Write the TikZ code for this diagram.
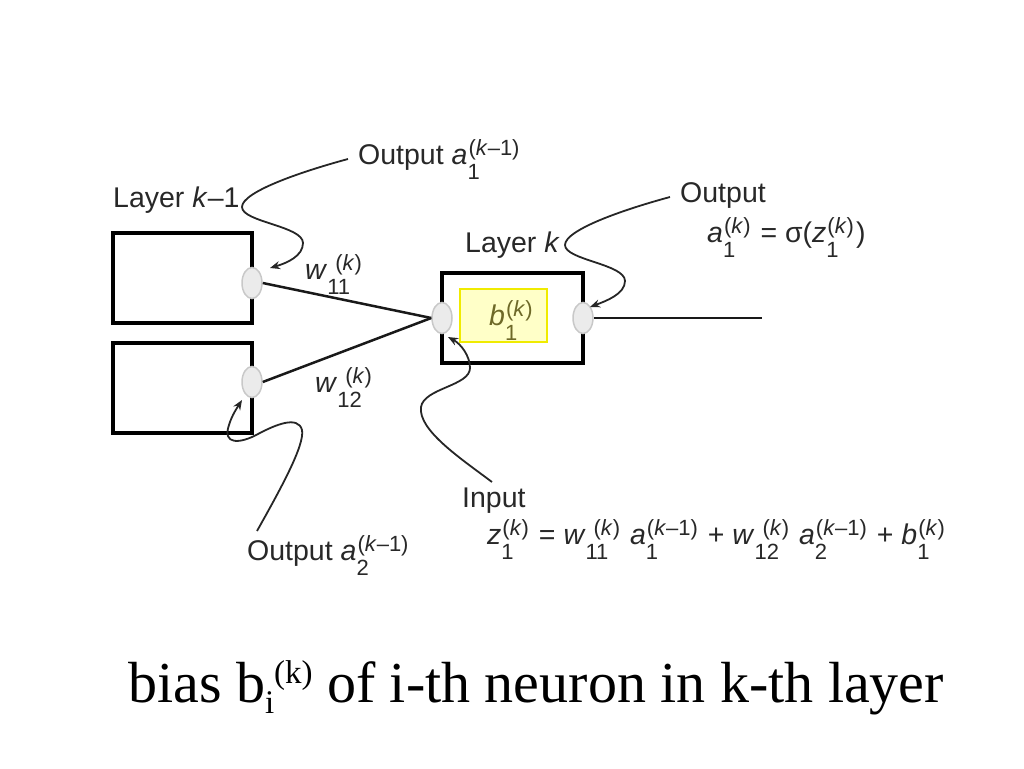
\documentclass[tikz,border=0pt]{standalone}
\usepackage{fontspec}
\setmainfont{Liberation Sans}
\newfontfamily\timesfont{Liberation Serif}
\usetikzlibrary{arrows.meta,shapes.geometric}
\definecolor{txt}{RGB}{40,40,40}
\definecolor{yfill}{RGB}{255,255,200}
\definecolor{yborder}{RGB}{240,235,0}
\definecolor{btxt}{RGB}{110,105,40}
\definecolor{efill}{RGB}{235,235,235}
\definecolor{edraw}{RGB}{200,200,200}
% #1 kern of sup, #2 size, #3 raise, #4 lower, #5 sup, #6 sub
\newcommand\SSgen[6]{\setbox0\hbox{\kern#1\raisebox{#3}{\fontsize{#2}{#2}\selectfont #5}}\setbox2\hbox{\raisebox{-#4}{\fontsize{#2}{#2}\selectfont #6}}\ifdim\wd0>\wd2\relax\rlap{\box2\relax}\box0\relax\else\rlap{\box0\relax}\box2\relax\fi}
\newcommand\SupSub[3][1pt]{\SSgen{#1}{22pt}{9pt}{15pt}{#2}{#3}\kern2pt\relax}
\newcommand\Kp{(\textit{k})}
\newcommand\Km{(\textit{k}–1)}
\tikzset{
  layerbox/.style={draw=black, line width=4pt},
  biasbox/.style={draw=yborder, fill=yfill, line width=2pt},
  port/.style={ellipse, draw=edraw, fill=efill, line width=1.5pt, minimum width=20pt, minimum height=31pt, inner sep=0pt},
  wire/.style={draw=black!90, line width=2.5pt},
  callout/.style={draw=black!85, line width=1.8pt, -{Stealth[length=10pt,width=8pt]}},
  lbl/.style={text=txt, font=\fontsize{28.5}{32}\selectfont, inner sep=0pt, anchor=base west},
}
\begin{document}
\begin{tikzpicture}[x=1pt,y=-1pt]
\useasboundingbox (0,0) rectangle (1024,768);
% boxes
\draw[layerbox] (113,233) rectangle (252,323);
\draw[layerbox] (113,343) rectangle (252,433);
\draw[layerbox] (442,273) rectangle (583,363);
\node[biasbox, minimum width=87pt, minimum height=53pt, inner sep=0pt] (bias) at (503.5,315.5) {};
% ports
\node[port] (p1) at (252,283) {};
\node[port] (p2) at (252,382) {};
\node[port] (pin) at (442,318) {};
\node[port] (pout) at (583,318) {};
\coordinate (outend) at (762,318);
% wires
\draw[wire] (p1.east) -- (pin.west);
\draw[wire] (p2.east) -- (pin.west);
\draw[wire] (pout.east) -- (outend);
% labels
\node[lbl] (l1) at (113,207) {Layer \textit{k}–1};
\node[lbl] (o1) at (358,164) {Output \textit{a}\SupSub{\Km}{1}};
\node[lbl] (w11) at (305,279) {\textit{w}\SupSub[8pt]{\Kp}{11}};
\node[lbl] (w12) at (315,392) {\textit{w}\SupSub[8pt]{\Kp}{12}};
\node[lbl] (lk) at (465,252) {Layer \textit{k}};
\node[lbl] (ok) at (680,202) {Output};
\node[lbl] (ak) at (707,242) {\textit{a}\SupSub{\Kp}{1} = σ(\textit{z}\SupSub{\Kp}{1})};
\node[lbl, text=btxt] (b1) at (489,325) {\textit{b}\SupSub{\Kp}{1}};
\node[lbl] (inp) at (462,507) {Input};
\node[lbl] (eq) at (487,544) {\textit{z}\SupSub{\Kp}{1} = \textit{w}\SupSub[8pt]{\Kp}{11} \textit{a}\SupSub{\Km}{1} + \textit{w}\SupSub[8pt]{\Kp}{12} \textit{a}\SupSub{\Km}{2} + \textit{b}\SupSub{\Kp}{1}};
\node[lbl] (o2) at (247,560) {Output \textit{a}\SupSub{\Km}{2}};
\node[text=black, inner sep=0pt, anchor=base west, font=\timesfont\fontsize{58}{64}\selectfont] (title) at (128,702) {bias b\SSgen{9pt}{33pt}{19pt}{11pt}{(k)}{i} of i-th neuron in k-th layer};
% callout arrow ends
\coordinate (t1) at (270,268);
\coordinate (t2) at (590,307);
\coordinate (t3) at (448,337);
\coordinate (t4) at (242,400);
\coordinate (s1) at (348,159);
\coordinate (s2) at (670,197);
\coordinate (s3) at (492,482);
\coordinate (s4) at (257,531);
% callouts
\draw[callout] (s1) .. controls (300,172) and (242,192) .. (242,207)
  .. controls (242,222) and (303,226) .. (303,243)
  .. controls (303,256) and (287,263) .. (t1);
\draw[callout] (s2) .. controls (622,210) and (565,230) .. (565,245)
  .. controls (565,260) and (625,264) .. (625,281)
  .. controls (625,294) and (606,301) .. (t2);
\draw[callout] (s3) .. controls (460,458) and (418,430) .. (421,407)
  .. controls (424,388) and (470,386) .. (470,368)
  .. controls (470,356) and (461,344) .. (t3);
\draw[callout] (s4) .. controls (280,490) and (305,445) .. (302,430)
  .. controls (298,415) and (275,425) .. (258,434)
  .. controls (240,444) and (222,445) .. (229,425)
  .. controls (232,415) and (237,408) .. (t4);
\end{tikzpicture}
\end{document}
